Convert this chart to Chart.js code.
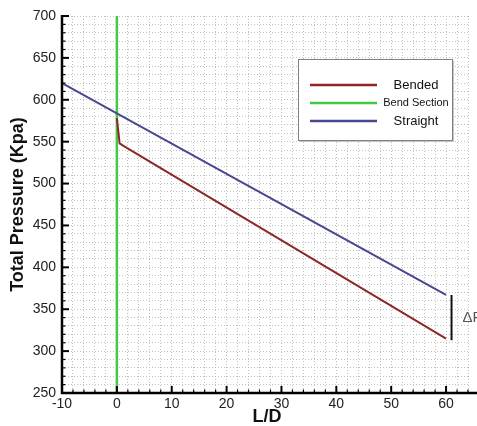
<!DOCTYPE html>
<html>
<head>
<meta charset="utf-8">
<script src="https://cdn.jsdelivr.net/npm/chart.js@4/dist/chart.umd.min.js"></script>
<style>
  html, body { margin: 0; padding: 0; background: #fff; }
  #c { display: block; }
</style>
</head>
<body>
<canvas id="c" width="477" height="426"></canvas>
<script>
// ---- data ----
const bendedX = [0, 0.5, 1.2, 60];
const bendedY = [578, 548, 545, 315];
const sectionX = [0, 0];
const sectionY = [250, 700];
const straightX = [-10, 60];
const straightY = [620, 367];
const seriesLabels = ['Bended', 'Bend Section', 'Straight'];
const xTickLabels = [-10, 0, 10, 20, 30, 40, 50, 60];
const yTickLabels = [250, 300, 350, 400, 450, 500, 550, 600, 650, 700];
const xTitle = 'L/D';
const yTitle = 'Total Pressure (Kpa)';
const deltaX = 61;
const deltaFrom = 367;
const deltaTo = 313;
const deltaText = 'ΔP';

const colors = ['#8e2828', '#44c844', '#48488f'];
const widths = [2, 2.5, 2];

function pts(xs, ys) { return xs.map((x, i) => ({ x: x, y: ys[i] })); }

const FONT = '"Liberation Sans", Arial, sans-serif';

const axesPlugin = {
  id: 'axesPlugin',
  afterDatasetsDraw(chart) {
    const ctx = chart.ctx;
    const xs = chart.scales.x, ys = chart.scales.y;
    const a = chart.chartArea;
    ctx.save();
    // delta annotation
    ctx.strokeStyle = '#111';
    ctx.lineWidth = 2;
    const dx = xs.getPixelForValue(deltaX);
    ctx.beginPath();
    ctx.moveTo(dx, ys.getPixelForValue(deltaFrom));
    ctx.lineTo(dx, ys.getPixelForValue(deltaTo));
    ctx.stroke();
    ctx.fillStyle = '#555';
    ctx.font = '15px ' + FONT;
    ctx.textAlign = 'left';
    ctx.textBaseline = 'middle';
    ctx.fillText(deltaText, dx + 11, ys.getPixelForValue((deltaFrom + deltaTo) / 2));

    // axis lines
    ctx.strokeStyle = '#000';
    ctx.lineWidth = 2.5;
    ctx.beginPath();
    ctx.moveTo(a.left, a.top - 1);
    ctx.lineTo(a.left, a.bottom);
    ctx.lineTo(a.right + 9, a.bottom);
    ctx.stroke();
    // ticks inward
    for (let v = -10; v <= 64; v += 2) {
      const px = xs.getPixelForValue(v);
      const len = (v % 10 === 0) ? 7 : 3.5;
      ctx.lineWidth = (v % 10 === 0) ? 2 : 1.2;
      ctx.beginPath();
      ctx.moveTo(px, a.bottom);
      ctx.lineTo(px, a.bottom - len);
      ctx.stroke();
    }
    for (let v = 250; v <= 700; v += 10) {
      const py = ys.getPixelForValue(v);
      const len = (v % 50 === 0) ? 7 : 3.5;
      ctx.lineWidth = (v % 50 === 0) ? 2 : 1.2;
      ctx.beginPath();
      ctx.moveTo(a.left, py);
      ctx.lineTo(a.left + len, py);
      ctx.stroke();
    }

    // axis titles
    ctx.fillStyle = '#111';
    ctx.font = 'bold 18px ' + FONT;
    ctx.textAlign = 'center';
    ctx.textBaseline = 'middle';
    ctx.fillText(xTitle, (a.left + a.right) / 2 + 2, 417);
    ctx.save();
    ctx.translate(18, (a.top + a.bottom) / 2);
    ctx.rotate(-Math.PI / 2);
    ctx.fillText(yTitle, 0, 0);
    ctx.restore();

    // legend box
    const bx = 298, by = 59, bw = 154, bh = 81;
    ctx.fillStyle = '#c4c4c4';
    ctx.fillRect(bx + 2, by + 2, bw, bh);
    ctx.fillStyle = '#fff';
    ctx.fillRect(bx, by, bw, bh);
    ctx.strokeStyle = '#808080';
    ctx.lineWidth = 1;
    ctx.strokeRect(bx + 0.5, by + 0.5, bw, bh);
    const rows = [85, 103, 121];
    const sizes = [13, 11, 13];
    chart.data.datasets.forEach((ds, i) => {
      ctx.strokeStyle = ds.borderColor;
      ctx.lineWidth = 2.5;
      ctx.beginPath();
      ctx.moveTo(310, rows[i]);
      ctx.lineTo(377, rows[i]);
      ctx.stroke();
      ctx.fillStyle = '#111';
      ctx.font = sizes[i] + 'px ' + FONT;
      ctx.textAlign = 'center';
      ctx.textBaseline = 'middle';
      ctx.fillText(ds.label, 416, rows[i]);
    });
    ctx.restore();
  }
};

new Chart(document.getElementById('c'), {
  type: 'line',
  data: {
    datasets: [
      { label: seriesLabels[0], data: pts(bendedX, bendedY), borderColor: colors[0], borderWidth: widths[0], order: 2 },
      { label: seriesLabels[1], data: pts(sectionX, sectionY), borderColor: colors[1], borderWidth: widths[1], order: 3 },
      { label: seriesLabels[2], data: pts(straightX, straightY), borderColor: colors[2], borderWidth: widths[2], order: 1 }
    ].map(d => Object.assign(d, { pointRadius: 0, fill: false, tension: 0 }))
  },
  options: {
    responsive: false,
    animation: false,
    devicePixelRatio: 1,
    layout: { padding: { top: 16, right: 9, left: 0, bottom: 0 } },
    plugins: { legend: { display: false }, tooltip: { enabled: false } },
    scales: {
      x: {
        type: 'linear',
        min: -10, max: 64,
        afterFit(s) { s.height = 33; },
        ticks: {
          stepSize: 2, autoSkip: false, maxRotation: 0, padding: 3,
          color: '#222', font: { family: FONT, size: 14 },
          callback: v => xTickLabels.includes(v) ? String(v) : ''
        },
        grid: { color: '#c2c2c2', lineWidth: 1, drawTicks: false },
        border: { display: false, dash: [1, 2] }
      },
      y: {
        type: 'linear',
        min: 250, max: 700,
        afterFit(s) { s.width = 62; },
        ticks: {
          stepSize: 10, autoSkip: false, padding: 6,
          color: '#222', font: { family: FONT, size: 14 },
          callback: v => yTickLabels.includes(v) ? String(v) : ''
        },
        grid: { color: '#c2c2c2', lineWidth: 1, drawTicks: false },
        border: { display: false, dash: [1, 2] }
      }
    }
  },
  plugins: [axesPlugin]
});
</script>
</body>
</html>
